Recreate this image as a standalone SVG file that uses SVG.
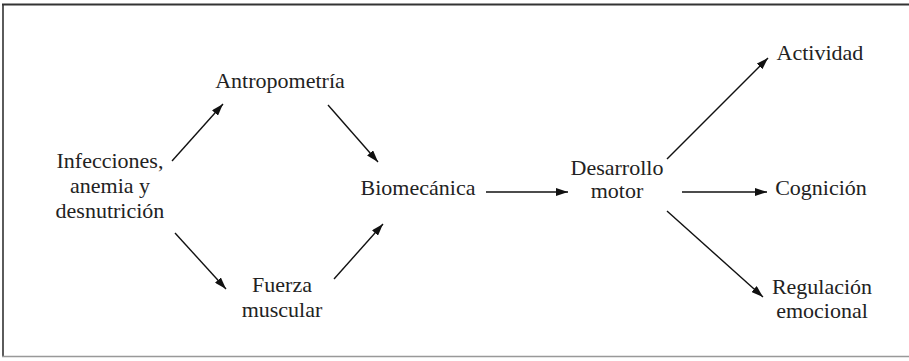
<svg xmlns="http://www.w3.org/2000/svg" width="909" height="361" viewBox="0 0 909 361">
<style>
.t text{font-family:'Liberation Serif','Times New Roman',serif;font-size:22px;fill:#222;text-anchor:middle}
.c line{stroke:#111;stroke-width:1.4;marker-end:url(#ah)}
</style>
<defs>
<marker id="ah" viewBox="0 0 12 8" refX="12" refY="4" markerWidth="12" markerHeight="8" markerUnits="userSpaceOnUse" orient="auto">
<path d="M0,0 L12,4 L0,8 Z" fill="#111"/>
</marker>
</defs>
<rect width="909" height="361" fill="#fff"/>
<g id="frame">
<line x1="2" y1="4.5" x2="909" y2="4.5" stroke="#333" stroke-width="2"/>
<line x1="3" y1="4" x2="3" y2="357" stroke="#333" stroke-width="1.6"/>
<line x1="2" y1="356.5" x2="909" y2="356.5" stroke="#999" stroke-width="1.5"/>
</g>
<g class="t" font-family="Liberation Serif, serif">
<g id="infecciones"><text x="110" y="168">Infecciones,</text><text x="110" y="193">anemia y</text><text x="110" y="218">desnutrición</text></g>
<g id="antropometria"><text x="280" y="88">Antropometría</text></g>
<g id="fuerza"><text x="282" y="292">Fuerza</text><text x="282" y="317">muscular</text></g>
<g id="biomecanica"><text x="418" y="195">Biomecánica</text></g>
<g id="desarrollo"><text x="617" y="175">Desarrollo</text><text x="617" y="198">motor</text></g>
<g id="actividad"><text x="820" y="60">Actividad</text></g>
<g id="cognicion"><text x="821" y="195">Cognición</text></g>
<g id="regulacion"><text x="822" y="294">Regulación</text><text x="822" y="318">emocional</text></g>
</g>
<g class="c" id="connectors">
<line x1="172" y1="161" x2="223" y2="104"/>
<line x1="328" y1="105" x2="378" y2="162"/>
<line x1="175" y1="233" x2="226" y2="289"/>
<line x1="334" y1="279" x2="383" y2="224"/>
<line x1="486" y1="192" x2="568" y2="192"/>
<line x1="667" y1="159" x2="768" y2="58"/>
<line x1="682" y1="192" x2="767" y2="192"/>
<line x1="667" y1="211" x2="763" y2="297"/>
</g>
</svg>
